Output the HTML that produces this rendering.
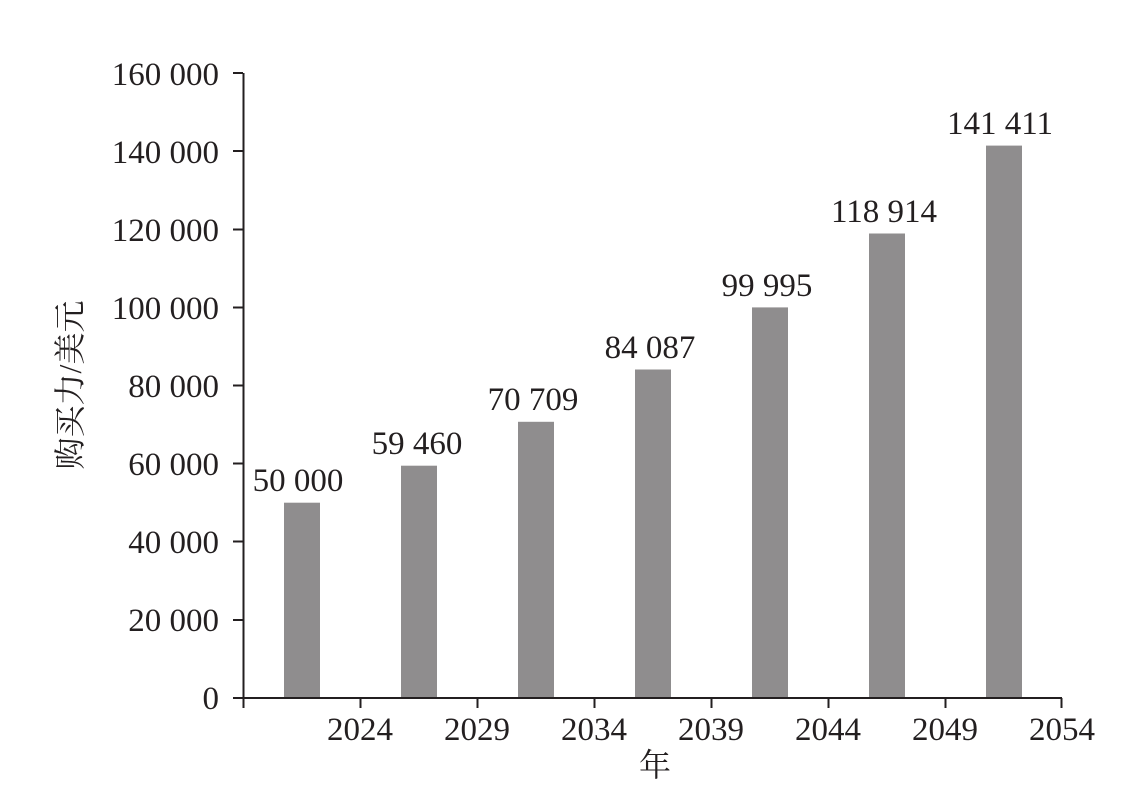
<!DOCTYPE html>
<html><head><meta charset="utf-8"><style>body{margin:0;background:#fff}
svg text{font-family:"Liberation Serif","Noto Serif CJK SC",serif;font-size:33px;fill:#231f20}
svg text.cjk{font-size:32px}
</style></head><body>
<svg width="1133" height="796" xmlns="http://www.w3.org/2000/svg">
<g fill="#8f8d8e">
<rect x="284" y="502.7" width="36" height="195.3"/>
<rect x="401" y="465.7" width="36" height="232.3"/>
<rect x="518" y="421.8" width="36" height="276.2"/>
<rect x="635" y="369.5" width="36" height="328.5"/>
<rect x="752" y="307.4" width="36" height="390.6"/>
<rect x="869" y="233.5" width="36" height="464.5"/>
<rect x="986" y="145.6" width="36" height="552.4"/>
</g>
<g stroke="#231f20" stroke-width="2" fill="none">
<line x1="243.5" y1="73" x2="243.5" y2="708"/>
<line x1="233" y1="698" x2="1062" y2="698"/>
<line x1="233" y1="73" x2="243" y2="73"/><line x1="233" y1="151" x2="243" y2="151"/><line x1="233" y1="229.5" x2="243" y2="229.5"/><line x1="233" y1="307.5" x2="243" y2="307.5"/><line x1="233" y1="385.5" x2="243" y2="385.5"/><line x1="233" y1="463.5" x2="243" y2="463.5"/><line x1="233" y1="541.5" x2="243" y2="541.5"/><line x1="233" y1="620" x2="243" y2="620"/>
<line x1="360.5" y1="698" x2="360.5" y2="708"/><line x1="477.5" y1="698" x2="477.5" y2="708"/><line x1="594.5" y1="698" x2="594.5" y2="708"/><line x1="711.5" y1="698" x2="711.5" y2="708"/><line x1="828.5" y1="698" x2="828.5" y2="708"/><line x1="945.5" y1="698" x2="945.5" y2="708"/><line x1="1061.5" y1="698" x2="1061.5" y2="708"/>
</g>
<g text-anchor="end">
<text x="219" y="85">160 000</text><text x="219" y="163">140 000</text><text x="219" y="241">120 000</text><text x="219" y="319">100 000</text><text x="219" y="397">80 000</text><text x="219" y="475">60 000</text><text x="219" y="553">40 000</text><text x="219" y="631">20 000</text><text x="219" y="709">0</text>
</g>
<g text-anchor="middle">
<text x="360" y="740">2024</text><text x="477" y="740">2029</text><text x="594" y="740">2034</text><text x="711" y="740">2039</text><text x="828" y="740">2044</text><text x="945" y="740">2049</text><text x="1062" y="740">2054</text>
<text x="298" y="491">50 000</text><text x="417" y="454">59 460</text><text x="533" y="410">70 709</text><text x="650" y="358">84 087</text><text x="767" y="296">99 995</text><text x="884" y="222">118 914</text><text x="1000" y="134">141 411</text>
<text class="cjk" x="655" y="776">年</text>
<text class="cjk" transform="translate(81,385) rotate(-90)">购买力/美元</text>
</g>
</svg>
</body></html>
